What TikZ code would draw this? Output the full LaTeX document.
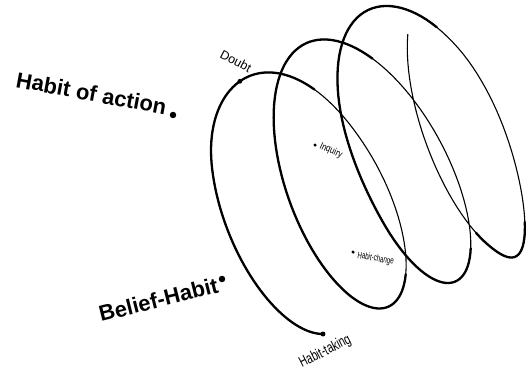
\documentclass[tikz,border=0pt]{standalone}
\usepackage{fontspec}
\setmainfont{Liberation Sans}
\begin{document}
\begin{tikzpicture}[
  x=1bp,
  y=-1bp,
  declare function={
    bump(\t,\c,\w) = max(0, 1-((\t-\c)/\w)^2)^2;
    hx(\t) = 278 + 44.3*\t + 13*\t^2 - 2.33*\t^3
             + (45+1.5*\t)*cos(360*\t) + (3.5*\t-71)*sin(360*\t)
             + 5*bump(\t,0.5,0.2)
             - 11*bump(\t,2.85,0.22) - 7*bump(\t,2.38,0.22);
    hy(\t) = 209 - 27.5*\t + (125+2*\t)*cos(360*\t) + 4.3*sin(360*\t)
             + 3.5*bump(\t,0.5,0.2) - 4*bump(\t,2.5,0.2);
  },
  every node/.style={inner sep=0pt, anchor=base west},
  strand/.style={line width=1.1bp, line cap=round, line join=round},
  front/.style={line width=2.3bp, line cap=round, line join=round},
  dot/.style={circle, fill, inner sep=0pt, minimum size=#1, anchor=center},
  big label/.style={font=\bfseries\fontsize{22}{24}\selectfont},
  small label/.style={font=\fontsize{#1}{#1}\selectfont}
]
\useasboundingbox (0,0) rectangle (526,376);

% the spiral, one strand of a little over three turns
\draw[strand] plot[domain=0:3.365, samples=340, variable=\t] ({hx(\t)}, {hy(\t)});

% heavier strokes on the near side of each turn
\foreach \from/\to in {0/0.6, 0.88/1.6, 1.88/2.6, 2.88/3.1}
  \draw[front] plot[domain=\from:\to, samples=80, variable=\t] ({hx(\t)}, {hy(\t)});

\coordinate (spiralstart) at ({hx(0)}, {hy(0)});
\coordinate (spiraltop) at ({hx(0.45)}, {hy(0.45)});

% labels
\node[big label, rotate=-10.5] (action) at (15,87) {Habit of action};
\node[dot=6.5] (actiondot) at (173,115) {};
\node[big label, rotate=14] (belief) at (101,322) {Belief-Habit};
\node[dot=6.5] (beliefdot) at (222,279) {};
\node[small label=12.5, rotate=-28] (doubt) at (219,57) {Doubt};
\node[dot=4.8] (doubtdot) at (spiraltop) {};
\node[small label=10, rotate=-25, xscale=0.8] (inquiry) at (319,148) {Inquiry};
\node[dot=3.5] (inquirydot) at (315,145) {};
\node[small label=9.5, rotate=-10, xscale=0.65] (change) at (357,258) {Habit-change};
\node[dot=3.5] (changedot) at (353,252) {};
\node[small label=15, rotate=27, xscale=0.7] (taking) at (302,368) {Habit-taking};
\node[dot=5] (takingdot) at (spiralstart) {};
\end{tikzpicture}
\end{document}
